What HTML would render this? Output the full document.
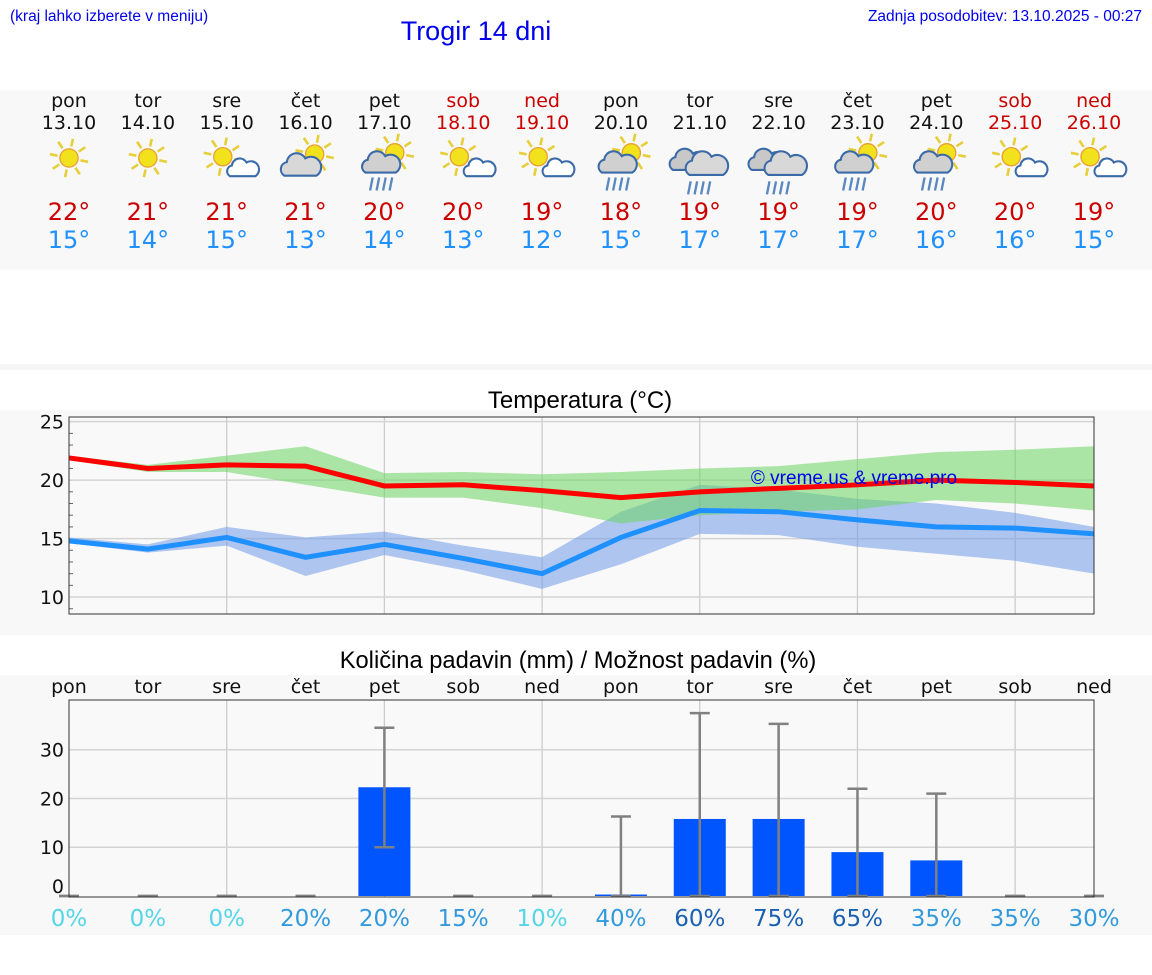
<!DOCTYPE html>
<html><head><meta charset="utf-8"><style>
body{margin:0;width:1152px;height:975px;background:#fff;overflow:hidden;font-family:"DejaVu Sans","Liberation Sans",sans-serif}
svg{position:absolute;left:0;top:0}
</style></head><body>
<svg id="s" width="1152" height="975" xmlns="http://www.w3.org/2000/svg">
<rect x="0" y="90" width="1152" height="180" fill="#f8f8f8"/>
<rect x="0" y="364" width="1152" height="6" fill="#f6f6f6"/>
<rect x="0" y="410" width="1152" height="225" fill="#f8f8f8"/>
<rect x="0" y="675" width="1152" height="260" fill="#f8f8f8"/>
<text x="10" y="21" font-family="Liberation Sans,sans-serif" font-size="15.5" fill="#0000ee">(kraj lahko izberete v meniju)</text>
<text x="476" y="40" text-anchor="middle" font-family="Liberation Sans,sans-serif" font-size="27" fill="#0000ee">Trogir 14 dni</text>
<text x="1142" y="21" text-anchor="end" font-family="Liberation Sans,sans-serif" font-size="15.5" fill="#0000ee">Zadnja posodobitev: 13.10.2025 - 00:27</text>
<text x="580" y="408" text-anchor="middle" font-family="Liberation Sans,sans-serif" font-size="24" fill="#000">Temperatura (°C)</text>
<text x="578" y="668" text-anchor="middle" font-family="Liberation Sans,sans-serif" font-size="23.7" fill="#000">Količina padavin (mm) / Možnost padavin (%)</text>
<g id="g"></g>
</svg>
<script>
const days=["pon","tor","sre","čet","pet","sob","ned","pon","tor","sre","čet","pet","sob","ned"];
const dates=["13.10","14.10","15.10","16.10","17.10","18.10","19.10","20.10","21.10","22.10","23.10","24.10","25.10","26.10"];
const weekend=[0,0,0,0,0,1,1,0,0,0,0,0,1,1];
const icons=["sun","sun","sunc","sunC","sunR","sunc","sunc","sunR","cloudR","cloudR","sunR","sunR","sunc","sunc"];
const tMax=[21.9,21.0,21.3,21.2,19.5,19.6,19.1,18.5,19.0,19.3,19.6,20.0,19.8,19.5];
const tMin=[14.8,14.1,15.1,13.4,14.5,13.3,12.0,15.1,17.4,17.3,16.6,16.0,15.9,15.4];
const maxHi=[22.1,21.3,22.1,22.9,20.6,20.7,20.5,20.7,21.0,21.2,21.8,22.4,22.6,22.9];
const maxLo=[21.7,20.7,20.7,19.6,18.5,18.5,17.6,16.3,17.0,17.3,17.5,18.3,18.0,17.4];
const minHi=[15.1,14.5,16.0,15.1,15.6,14.4,13.4,17.3,19.6,19.2,18.4,18.0,17.2,16.0];
const minLo=[14.6,13.8,14.4,11.8,13.6,12.3,10.7,12.8,15.4,15.3,14.3,13.7,13.1,12.0];
const hiLabels=[22,21,21,21,20,20,19,18,19,19,19,20,20,19];
const loLabels=[15,14,15,13,14,13,12,15,17,17,17,16,16,15];
const tTicks=[10,15,20,25];
const rain=[0,0,0,0,22.3,0,0,0.3,15.8,15.8,9,7.3,0,0];
const rainLo=[0,0,0,0,10,0,0,0,0,0,0,0,0,0];
const rainHi=[0,0,0,0,34.5,0,0,16.3,37.5,35.3,22,21,0,0];
const chance=[0,0,0,20,20,15,10,40,60,75,65,35,35,30];
const pTicks=[0,10,20,30];

const NS="http://www.w3.org/2000/svg";
const g=document.getElementById('g');
function el(t,a,p){const e=document.createElementNS(NS,t);for(const k in a)e.setAttribute(k,a[k]);(p||g).appendChild(e);return e;}
const X0=69,X1=1094,N=14;
const x=i=>X0+(X1-X0)/(N-1)*i;
const TY0=417,TY1=614,TMIN=8.55,TMAX=25.4;
const ty=v=>TY1-(v-TMIN)/(TMAX-TMIN)*(TY1-TY0);
const PY0=700,PY1=897,PMAX=40.2;
const py=v=>896-v/PMAX*(896-PY0);

for(let i=0;i<N;i++){
  const c=weekend[i]?"#cc0000":"#111";
  let t=el('text',{x:x(i),y:107,'text-anchor':'middle','font-size':19,fill:c});t.textContent=days[i];
  
  
  t=el('text',{x:x(i),y:129,'text-anchor':'middle','font-size':19,fill:c});t.textContent=dates[i];
  
  
  t=el('text',{x:x(i),y:220,'text-anchor':'middle','font-size':24,fill:'#cc0000'});t.textContent=hiLabels[i]+'°';
  
  
  t=el('text',{x:x(i),y:248,'text-anchor':'middle','font-size':24,fill:'#1e90ff'});t.textContent=loLabels[i]+'°';
  
  
  const ig=el('g',{transform:`translate(${x(i)},158) scale(1.3)`});
  
  
  const ic=icons[i];
  function sun(cx,cy,r){for(let k=0;k<8;k++){const a=k*Math.PI/4+0.2;el('line',{x1:cx+Math.cos(a)*(r+2),y1:cy+Math.sin(a)*(r+2),x2:cx+Math.cos(a)*(r+8),y2:cy+Math.sin(a)*(r+8),stroke:'#e6cf3a','stroke-width':2},ig);}el('circle',{cx,cy,r,fill:'#f2e21e',stroke:'#e8a030','stroke-width':1},ig);}
  function cloud(cx,cy,s,fill){const p=`M${cx-14*s},${cy+8*s} a${6*s},${6*s} 0 0 1 ${2*s},${-11*s} a${8*s},${8*s} 0 0 1 ${15*s},${-3*s} a${7*s},${7*s} 0 0 1 ${9*s},${14*s} z`;el('path',{d:p,fill:fill,stroke:'#3a6aa8','stroke-width':1.6},ig);}
  function drops(cx,cy){for(let k=0;k<4;k++)el('line',{x1:cx-7+k*5,y1:cy,x2:cx-9+k*5,y2:cy+10,stroke:'#5a88c0','stroke-width':1.8},ig);}
  if(ic==='sun')sun(0,0,7);
  if(ic==='sunc'){sun(-3,-1,7);cloud(13,8,0.75,'#fff');}
  if(ic==='sunC'){sun(7,-3,7);cloud(-3,6,0.95,'#d8d8d8');}
  if(ic==='sunR'){sun(8,-4,7);cloud(-2,4,0.9,'#d0d0d0');drops(-2,15);}
  if(ic==='cloudR'){cloud(-8,2,0.9,'#c8c8c8');cloud(6,5,1,'#d8d8d8');drops(0,18);}
}

el('rect',{x:X0,y:TY0,width:X1-X0,height:TY1-TY0,fill:'#f9f9f9'});
for(let i=0;i<N;i++){if(i%2==0&&i>0&&i<N-1){const l=el('line',{x1:x(i),y1:TY0,x2:x(i),y2:TY1,stroke:'#ccc','stroke-width':1.3});}}
for(let v=9;v<=25;v++){el('line',{x1:X0,y1:ty(v),x2:X0+4,y2:ty(v),stroke:'#666','stroke-width':1});}
tTicks.forEach(v=>{el('line',{x1:X0,y1:ty(v),x2:X1,y2:ty(v),stroke:'#d4d4d4','stroke-width':1.5});
  const t=el('text',{x:64,y:ty(v)+7,'text-anchor':'end','font-size':19,fill:'#111'});t.textContent=v;
  
  });
function band(hi,lo,fill,op,name){let d='';hi.forEach((v,i)=>d+=(i?'L':'M')+x(i)+','+ty(v));for(let i=N-1;i>=0;i--)d+='L'+x(i)+','+ty(lo[i]);const p=el('path',{d:d+'Z',fill:fill,'fill-opacity':op});}
band(minHi,minLo,'#6f9ae8',0.55,'min-temp-range');
band(maxHi,maxLo,'#6ad660',0.55,'max-temp-range');
function line(a,c,name){const p=el('polyline',{points:a.map((v,i)=>x(i)+','+ty(v)).join(' '),fill:'none',stroke:c,'stroke-width':5});}
line(tMax,'#ff0000','max-temp-line');
line(tMin,'#1e90ff','min-temp-line');
let wm=el('text',{x:854,y:484,'text-anchor':'middle','font-family':'Liberation Sans,sans-serif','font-size':19,fill:'#0000ee'});wm.textContent='© vreme.us & vreme.pro';


el('rect',{x:X0,y:TY0,width:X1-X0,height:TY1-TY0,fill:'none',stroke:'#333','stroke-width':1});

el('rect',{x:X0,y:PY0,width:X1-X0,height:PY1-PY0,fill:'#f9f9f9'});
for(let i=0;i<N;i++){if(i%2==0&&i>0&&i<N-1){el('line',{x1:x(i),y1:PY0,x2:x(i),y2:PY1,stroke:'#ccc','stroke-width':1.3});}
  const t=el('text',{x:x(i),y:693,'text-anchor':'middle','font-size':19,fill:'#111'});t.textContent=days[i];
  
  }
pTicks.forEach(v=>{if(v>0)el('line',{x1:X0,y1:py(v),x2:X1,y2:py(v),stroke:'#d4d4d4','stroke-width':1.5});
  const t=el('text',{x:64,y:py(v)+(v?7:-3),'text-anchor':'end','font-size':19,fill:'#111'});t.textContent=v;
  
  });
for(let i=0;i<N;i++){
  if(rain[i]>0){const b=el('rect',{x:x(i)-26,y:py(rain[i]),width:52,height:896-py(rain[i]),fill:'#0055ff'});
    
    }
  const e=el('g',{stroke:'#808080','stroke-width':2.5});
  
  
  el('line',{x1:x(i),y1:py(rainLo[i]),x2:x(i),y2:py(rainHi[i])},e);
  el('line',{x1:x(i)-10,y1:py(rainHi[i]),x2:x(i)+10,y2:py(rainHi[i])},e);
  el('line',{x1:x(i)-10,y1:py(rainLo[i]),x2:x(i)+10,y2:py(rainLo[i])},e);
  const c=chance[i]<=10?'#55d5e8':(chance[i]<=50?'#3399dd':'#1a60b0');
  const t=el('text',{x:x(i),y:926,'text-anchor':'middle','font-size':23,fill:c});t.textContent=chance[i]+'%';
  
  
}
el('rect',{x:X0,y:PY0,width:X1-X0,height:PY1-PY0,fill:'none',stroke:'#333','stroke-width':1});
</script>
</body></html>
